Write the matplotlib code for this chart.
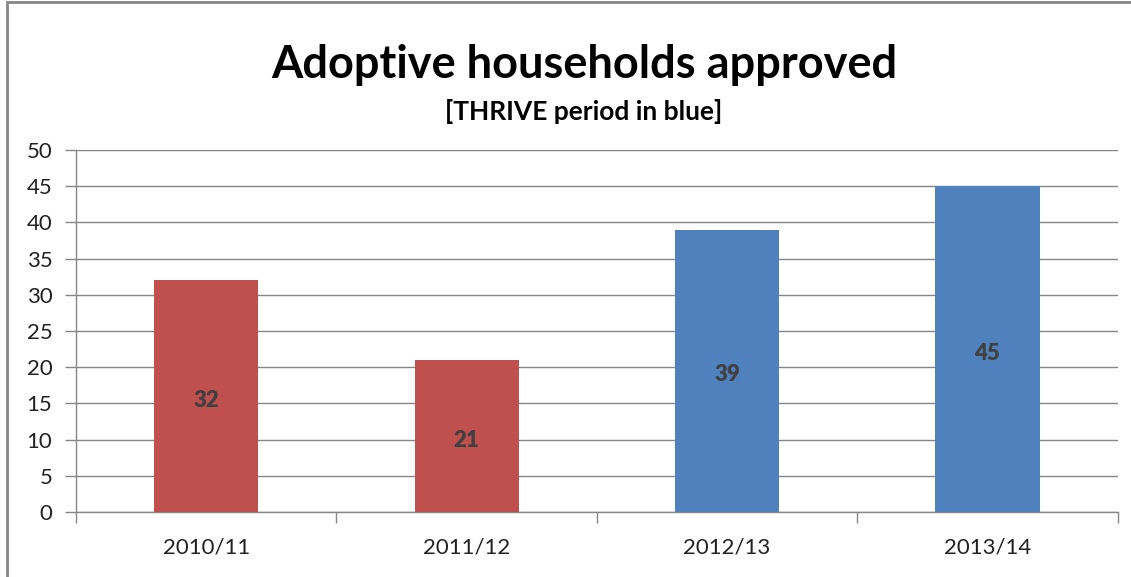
import matplotlib.pyplot as plt
from matplotlib.patches import Rectangle

years = ["2010/11", "2011/12", "2012/13", "2013/14"]
approved = [32, 21, 39, 45]
thrive = [False, False, True, True]

RED = "#C0504D"
BLUE = "#4F81BD"

plt.rcParams['font.family'] = ['Lato', 'DejaVu Sans']

fig = plt.figure(figsize=(11.31, 5.77), dpi=100)
ax = fig.add_axes([76/1131, 1 - 512/577, (1117.7 - 76)/1131, (512 - 150)/577])

colors = [BLUE if t else RED for t in thrive]
x = list(range(len(years)))
bars = ax.bar(x, approved, width=0.4, color=colors, zorder=3)

for b, v in zip(bars, approved):
    ax.annotate(str(v), (b.get_x() + b.get_width()/2, v/2), xytext=(0, -3),
                textcoords='offset points', ha='center', va='center',
                fontsize=16, fontweight='heavy', color='#404040', zorder=4)

ax.set_xlim(-0.5, len(years) - 0.5)
ax.set_ylim(0, 50)
ax.set_yticks(range(0, 51, 5))
ax.yaxis.grid(True, color='#868686', linewidth=1, zorder=0)

# category ticks sit on the boundaries between bars
ax.set_xticks([i - 0.5 for i in range(len(years) + 1)])
ax.set_xticklabels([])
ax.set_xticks(x, minor=True)
ax.set_xticklabels(years, minor=True)
ax.tick_params(axis='x', which='minor', length=0, pad=18, labelsize=16, labelcolor='#222222')
ax.tick_params(axis='x', which='major', length=8, color='#868686', width=1)
ax.tick_params(axis='y', length=8, color='#868686', width=1, labelsize=16, pad=9, labelcolor='#222222')

for side in ['top', 'right']:
    ax.spines[side].set_visible(False)
for side in ['left', 'bottom']:
    ax.spines[side].set_color('#868686')
    ax.spines[side].set_linewidth(1)

fig.text(584/1131, 1 - 65/577, "Adoptive households approved", ha='center', va='center',
         fontsize=32.5, fontweight='bold', color='black')
fig.text(584/1131, 1 - 112/577, "[THRIVE period in blue]", ha='center', va='center',
         fontsize=19, fontweight='bold', color='black')

# outer chart frame
fig.patches.append(Rectangle((7/1131, -0.1), 1.2, 1 - 2/577 + 0.1, transform=fig.transFigure,
                             fill=False, edgecolor='#878787', linewidth=2))

plt.savefig("out.png", dpi=100)
